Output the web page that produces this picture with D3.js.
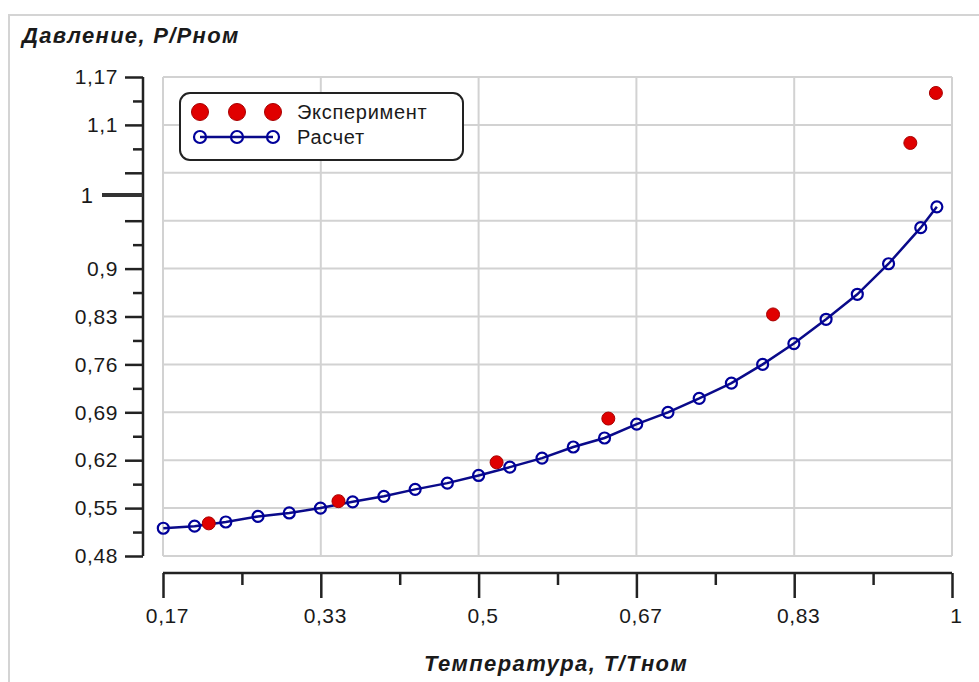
<!DOCTYPE html>
<html lang="ru">
<head>
<meta charset="UTF-8">
<title>Давление от температуры</title>
<style>
  body { margin: 0; background: #fff; }
  text { font-family: "Liberation Sans", Arial, sans-serif; fill: #1a1a1a; }
</style>
</head>
<body>
<script src="https://d3js.org/d3.v7.min.js"></script>
<div id="container"></div>
<script>
// расчетная кривая
var calcT = [0.167, 0.2, 0.233, 0.267, 0.3, 0.333, 0.367, 0.4, 0.433, 0.467, 0.5, 0.533, 0.567,
             0.6, 0.633, 0.667, 0.7, 0.733, 0.767, 0.8, 0.833, 0.867, 0.9, 0.933, 0.967, 0.984];
var calcP = [0.520, 0.523, 0.529, 0.537, 0.542, 0.549, 0.558, 0.566, 0.576, 0.585, 0.596, 0.608, 0.621,
             0.637, 0.650, 0.670, 0.687, 0.707, 0.729, 0.756, 0.786, 0.821, 0.857, 0.901, 0.953, 0.983];
// эксперимент
var expT = [0.215, 0.352, 0.519, 0.637, 0.811, 0.956, 0.983];
var expP = [0.527, 0.559, 0.615, 0.678, 0.828, 1.075, 1.147];

var xTicks = [1/6, 2/6, 3/6, 4/6, 5/6, 1];
var xLabels = ["0,17", "0,33", "0,5", "0,67", "0,83", "1"];
var yTicks = [0.48, 0.549, 0.618, 0.687, 0.756, 0.825, 0.894, 0.963, 1.032, 1.101, 1.17];
var yLabels = ["0,48", "0,55", "0,62", "0,69", "0,76", "0,83", "0,9", "", "", "1,1", "1,17"];
var legendNames = ["Эксперимент", "Расчет"];

var W = 979, H = 682;
var plot = {left: 163, right: 952, top: 77, bottom: 556};

var svg = d3.select('#container').append('svg').attr('width', W).attr('height', H);

// внешняя рамка
svg.append('path').attr('d', 'M9,' + H + 'V15H' + W)
    .attr('fill', 'none').attr('stroke', '#d4d4d4').attr('stroke-width', 2);

var x = d3.scaleLinear().domain([1/6, 1]).range([plot.left, plot.right]);
var y = d3.scaleLinear().domain([0.48, 1.17]).range([plot.bottom, plot.top]);

// сетка
var grid = svg.append('g').attr('class', 'grid');
grid.selectAll('line.h').data(yTicks).enter().append('line')
    .attr('x1', plot.left).attr('x2', plot.right)
    .attr('y1', d => y(d)).attr('y2', d => y(d))
    .attr('stroke', '#d2d2d2').attr('stroke-width', 2);
grid.selectAll('line.v').data(xTicks).enter().append('line')
    .attr('y1', plot.top).attr('y2', plot.bottom)
    .attr('x1', d => x(d)).attr('x2', d => x(d))
    .attr('stroke', '#d2d2d2').attr('stroke-width', 2);

// ось Y
var yAxisX = 143;
var yMinor = d3.pairs(yTicks).map(p => (p[0] + p[1]) / 2).filter((d, i) => i !== 7);
var yAxis = svg.append('g').attr('transform', 'translate(' + yAxisX + ',0)');
yAxis.call(d3.axisLeft(y).tickValues(yTicks).tickSize(18).tickPadding(7)
    .tickFormat((d, i) => yLabels[i]));
yAxis.append('g').call(d3.axisLeft(y).tickValues(yMinor).tickSize(10).tickFormat(''))
    .select('.domain').remove();
yAxis.selectAll('.domain').attr('d', 'M0,' + plot.top + 'V' + plot.bottom);
// отдельная отметка "1"
var one = yAxis.append('g').attr('transform', 'translate(0,' + y(1) + ')');
one.append('line').attr('x1', -41).attr('x2', 0).attr('stroke', '#333').attr('stroke-width', 4);
one.append('text').attr('x', -50).attr('dy', '0.35em').attr('text-anchor', 'end')
    .attr('font-size', 22).text('1');

// ось X
var xAxisY = 573;
var xMinor = d3.pairs(xTicks).map(p => (p[0] + p[1]) / 2);
var xAxis = svg.append('g').attr('transform', 'translate(0,' + xAxisY + ')');
xAxis.call(d3.axisBottom(x).tickValues(xTicks).tickSize(25).tickPadding(10)
    .tickFormat((d, i) => xLabels[i]));
xAxis.append('g').call(d3.axisBottom(x).tickValues(xMinor).tickSize(12).tickFormat(''))
    .select('.domain').remove();
xAxis.selectAll('.domain').attr('d', 'M' + plot.left + ',0H' + plot.right);

svg.selectAll('.domain, .tick line').attr('stroke', '#222').attr('stroke-width', 2.5);
svg.selectAll('.tick text').attr('font-size', 21).attr('letter-spacing', 0.6).attr('fill', '#1a1a1a');
xAxis.selectAll('.tick text').attr('dx', 4);

// расчетная кривая
var calc = calcT.map((t, i) => ({t: t, p: calcP[i]}));
var line = d3.line().x(d => x(d.t)).y(d => y(d.p));
svg.append('path').datum(calc).attr('d', line)
    .attr('fill', 'none').attr('stroke', '#0a0a8a').attr('stroke-width', 2.5);

// эксперимент
var exp = expT.map((t, i) => ({t: t, p: expP[i]}));
svg.append('g').selectAll('circle').data(exp).enter().append('circle')
    .attr('cx', d => x(d.t)).attr('cy', d => y(d.p)).attr('r', 6.5)
    .attr('fill', '#e00000').attr('stroke', '#a80000').attr('stroke-width', 1);

svg.append('g').selectAll('circle').data(calc).enter().append('circle')
    .attr('cx', d => x(d.t)).attr('cy', d => y(d.p)).attr('r', 5.5)
    .attr('fill', 'none').attr('stroke', '#00009a').attr('stroke-width', 2.2);

// легенда
var lg = svg.append('g');
lg.append('rect').attr('x', 180).attr('y', 93).attr('width', 283).attr('height', 67)
    .attr('rx', 10).attr('fill', '#fff').attr('stroke', '#222').attr('stroke-width', 2);
var lx = [200, 237, 273];
lg.selectAll('circle.e').data(lx).enter().append('circle')
    .attr('cx', d => d).attr('cy', 112).attr('r', 8.5)
    .attr('fill', '#e00000').attr('stroke', '#a80000');
lg.append('line').attr('x1', lx[0]).attr('x2', lx[2]).attr('y1', 137).attr('y2', 137)
    .attr('stroke', '#0a0a8a').attr('stroke-width', 2.5);
lg.selectAll('circle.c').data(lx).enter().append('circle')
    .attr('cx', d => d).attr('cy', 137).attr('r', 6)
    .attr('fill', 'none').attr('stroke', '#00009a').attr('stroke-width', 2.2);
lg.selectAll('text').data(legendNames).enter().append('text')
    .attr('x', 297).attr('y', (d, i) => 112 + i * 25).attr('dy', '0.35em')
    .attr('font-size', 20).attr('letter-spacing', 0.7).text(d => d);

// подписи осей
svg.append('text').attr('x', 22).attr('y', 43)
    .attr('font-size', 22).attr('font-weight', 'bold').attr('font-style', 'italic')
    .attr('letter-spacing', 1.3)
    .text('Давление, Р/Рном');
svg.append('text').attr('x', 556).attr('y', 671).attr('text-anchor', 'middle')
    .attr('font-size', 22).attr('font-weight', 'bold').attr('font-style', 'italic')
    .attr('letter-spacing', 1.4)
    .text('Температура, Т/Тном');
</script>
</body>
</html>
